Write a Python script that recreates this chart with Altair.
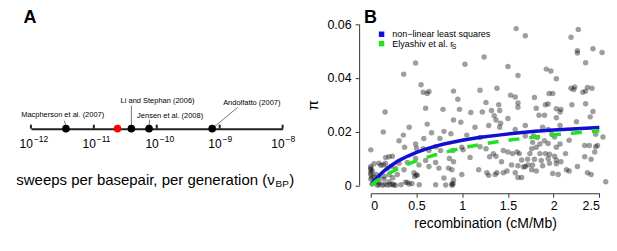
import altair as alt
import pandas as pd

FONT = "Liberation Sans"

# ---------------- Panel A data ----------------
tick_vals = [1e-12, 1e-11, 1e-10, 1e-9, 1e-8]
tick_base = ["10", "10", "10", "10", "10"]
tick_exp = ["−12", "−11", "−10", "−9", "−8"]
study_names = ["Macpherson et al. (2007)", "Li and Stephan (2006)", "Jensen et al. (2008)", "Andolfatto (2007)", "this study"]
study_rate = [3.6e-12, 3.95e-11, 7.55e-11, 7.6e-10, 2.38e-11]
study_color = ["black", "black", "black", "black", "#ff0000"]
label_x = [3.2e-12, 1.03e-10, 1.63e-10, 3.24e-9]
label_y = [0.131, 0.267, 0.124, 0.245]
leader_x1 = [3.4e-12, 3.95e-11, 7.69e-11, 7.6e-10]
leader_x2 = [3.59e-12, 3.95e-11, 7.55e-11, 1.94e-9]
leader_y1 = [0.076, 0.22, 0.086, 0.0]
leader_y2 = [0.029, 0.0, 0.029, 0.205]

# ---------------- Panel B data ----------------
rec_x = [1.59, 1.69, 2.27, 2.19, 0.49, 1.03, 1.24, 1.50, 2.26, 2.26, 2.43, 2.53, 2.35, 1.92, 1.97, 0.36, 1.61, 2.03,
         0.55, 0.574, 0.617, 0.636,
         2.19, 2.23, 2.22, 2.37, 2.42, 2.32, 2.35, 1.79, 1.95, 1.99, 1.91, 1.94, 2.20, 2.35,
         0.905, 1.195, 1.38, 1.53, 1.58, 0.952, 1.26, 1.40, 1.61,
         0.156, 0.60, 0.79, 0.42, 0.137, 0.617, 0.356, 0.665, 0.309, 0.58, 0.756, 0.80, 0.0, 0.37, 0.49, 0.50, 0.574, 0.636, 0.709, 0.763,
         0.163, 0.20, 0.236, 0.09, 0.137, 0.309, 0.40, 0.49, 0.527, 0.60, 0.636, 0.709, 0.745, 0.472, 0.508, 0.29, 0.363,
         0.0, 0.018, 0.0, 0.036, 0.0, 0.054, 0.018, 0.09, 0.145, 0.20, 0.236, 0.18, 0.127, 0.073, 0.27, 0.33, 0.38, 0.42, 0.45, 0.53, 0.71, 0.80, 0.82,
         0.0, 0.0, 0.0, 0.01, 0.03, 0.09, 0.15, 0.21, 0.25, 0.06, 0.09, 0.145, 0.20, 0.24, 0.27, 0.18, 0.11, 0.035, 0.16, 0.22, 0.48, 0.50, 0.40, 0.89, 0.90,
         0.97, 1.094, 1.22, 1.32, 1.41, 1.61, 1.35, 1.37, 1.50, 0.905, 0.985, 1.42, 1.14, 1.29, 1.41, 1.58, 1.69, 0.876, 1.05, 1.195, 1.69,
         0.996, 1.01, 0.897, 1.195, 1.26, 1.45, 1.50, 1.55, 1.60, 1.625, 1.34, 1.086, 1.30, 1.37, 0.86, 0.905, 1.43, 1.65, 1.715,
         1.54, 1.61, 1.67, 0.85, 0.887, 1.18, 1.27, 1.29, 1.36, 1.38, 1.45, 1.49, 1.58, 0.996, 0.905, 0.887, 1.61, 1.65, 1.69, 1.72,
         1.81, 1.84, 1.90, 2.03, 2.07, 2.08, 2.03, 2.43, 2.40, 2.25, 2.07, 1.88, 1.94, 1.78, 1.82, 1.98, 2.01, 2.17, 2.54, 2.46,
         1.77, 1.85, 1.90, 1.94, 2.03, 2.07, 2.34, 2.39, 2.46, 2.48, 1.76, 1.81, 2.45, 1.74, 1.85, 1.91, 1.955, 2.01, 2.13, 2.34, 2.41,
         1.79, 1.865, 1.94, 2.03, 2.08, 1.77, 1.88, 1.955, 2.03, 2.26, 2.37, 2.41, 2.14, 2.17, 2.05, 1.99, 2.57, 1.76, 1.81]
pi_y = [0.0584, 0.0557, 0.0581, 0.0552, 0.0456, 0.0451, 0.0478, 0.0443, 0.0502, 0.0493, 0.0509, 0.0495, 0.0457, 0.0433, 0.0426, 0.0414, 0.0409, 0.0397,
        0.0375, 0.0347, 0.0342, 0.0350,
        0.0362, 0.0366, 0.0357, 0.0365, 0.0362, 0.0347, 0.0351, 0.0327, 0.0342, 0.0342, 0.0300, 0.0303, 0.0300, 0.0304,
        0.0351, 0.0354, 0.0362, 0.0336, 0.0329, 0.0321, 0.0309, 0.0300, 0.0307,
        0.0273, 0.0287, 0.0283, 0.0216, 0.0199, 0.0228, 0.0187, 0.0196, 0.0166, 0.0174, 0.0174, 0.0201, 0.0132, 0.0142, 0.0154, 0.0138, 0.0136, 0.0130, 0.0144, 0.0130,
        0.0104, 0.0106, 0.0108, 0.0082, 0.0076, 0.0082, 0.0085, 0.0100, 0.0076, 0.0092, 0.0070, 0.0085, 0.0064, 0.0047, 0.0037, 0.0040, 0.0058,
        0.0064, 0.0053, 0.0040, 0.0032, 0.0023, 0.0017, 0.0005, 0.0011, 0.0023, 0.0013, 0.0005, 0.0001, 0.0, 0.0, 0.0, 0.0002, 0.0011, 0.0005, 0.0007, 0.0002, 0.0002, 0.0027, 0.0001,
        0.0070, 0.0058, 0.0048, 0.0030, 0.0012, 0.0003, 0.0004, 0.0002, 0.0001, 0.0040, 0.0028, 0.0034, 0.0039, 0.0028, 0.0063, 0.0063, 0.0075, 0.0080, 0.0082, 0.0070, 0.0033, 0.0039, 0.0010, 0.0, 0.0006,
        0.0283, 0.0271, 0.0273, 0.0279, 0.0279, 0.0291, 0.0259, 0.0243, 0.0249, 0.0243, 0.0235, 0.0231, 0.0216, 0.0223, 0.0216, 0.0208, 0.0223, 0.0192, 0.0187, 0.0178, 0.0184,
        0.0142, 0.0132, 0.0130, 0.0144, 0.0136, 0.0130, 0.0124, 0.0118, 0.0124, 0.0118, 0.0118, 0.0104, 0.0106, 0.0108, 0.0100, 0.0088, 0.0088, 0.0094, 0.0097,
        0.0076, 0.0073, 0.0068, 0.0064, 0.0058, 0.0058, 0.0047, 0.0037, 0.0040, 0.0047, 0.0047, 0.0053, 0.0047, 0.0040, 0.0020, 0.0005, 0.0029, 0.0029, 0.0070, 0.0076,
        0.0287, 0.0261, 0.0261, 0.0285, 0.0273, 0.0283, 0.0252, 0.0275, 0.0255, 0.0237, 0.0223, 0.0216, 0.0208, 0.0184, 0.0178, 0.0190, 0.0180, 0.0168, 0.0180, 0.0190,
        0.0160, 0.0154, 0.0166, 0.0156, 0.0142, 0.0154, 0.0148, 0.0148, 0.0144, 0.0148, 0.0136, 0.0142, 0.0124, 0.0118, 0.0118, 0.0118, 0.0116, 0.0108, 0.0118, 0.0106, 0.0097,
        0.0097, 0.0092, 0.0100, 0.0094, 0.0088, 0.0076, 0.0073, 0.0082, 0.0080, 0.0070, 0.0047, 0.0040, 0.0058, 0.0053, 0.0040, 0.0044, 0.0013, 0.0058, 0.0053]

curve_x = [0, 0.02, 0.05, 0.1, 0.15, 0.2, 0.3, 0.4, 0.5, 0.6, 0.7, 0.8, 1.0, 1.2, 1.4, 1.6, 1.8, 2.0, 2.2, 2.5]
nls_y = [0, 0.0009, 0.0021, 0.0039, 0.0055, 0.0068, 0.0091, 0.0108, 0.0123, 0.0135, 0.0145, 0.0154, 0.0168,
         0.0179, 0.0187, 0.0195, 0.0201, 0.0206, 0.0210, 0.0215]
ely_y = [0, 0.0005, 0.0013, 0.0024, 0.0035, 0.0045, 0.0062, 0.0078, 0.0091, 0.0103, 0.0113, 0.0122, 0.0139,
         0.0152, 0.0163, 0.0172, 0.0180, 0.0188, 0.0194, 0.0203]

legend_names = ["non−linear least squares", "Elyashiv et al. r"]
legend_colors = ["#1010d0", "#22e022"]
legend_sym_x = [0.118, 0.118]
legend_sym_y = [0.0563, 0.0528]
legend_txt_x = [0.236, 0.236]
legend_sub_x = [0.885]

one = pd.DataFrame({"k": [0]})


def panel_letter(letter, dx):
    return alt.Chart(one).mark_text(fontSize=18, fontWeight="bold", font=FONT, align="left",
                                    baseline="top", color="black").encode(
        x=alt.value(dx), y=alt.value(-15.3), text=alt.value(letter))


# ---------------- Panel A ----------------
WA, HA = 252.5, 104.7
xA_scale = alt.Scale(type="log", domain=[tick_vals[0], tick_vals[-1]], nice=False)
yA_scale = alt.Scale(domain=[0, 1])
noY = alt.Y("y:Q", scale=yA_scale, axis=None)

dfA_pts = pd.DataFrame({"x": study_rate, "c": study_color, "y": [0] * 5})
dfA_lab = pd.DataFrame({"x": label_x, "y": label_y, "t": study_names[:4]})
dfA_lead = pd.DataFrame({"x": leader_x1, "x2": leader_x2, "y": leader_y1, "y2": leader_y2})
dfA_tick = pd.DataFrame({"x": tick_vals, "b": tick_base, "e": tick_exp})

leadA = alt.Chart(dfA_lead).mark_rule(color="#555", strokeWidth=0.8).encode(
    x=alt.X("x:Q", scale=xA_scale,
            axis=alt.Axis(values=tick_vals, labels=False, ticks=False, domainWidth=2,
                          domainColor="#222", grid=False, title=None)),
    x2="x2:Q", y=noY, y2="y2:Q")
ticksA = alt.Chart(dfA_tick).mark_rule(color="#222", strokeWidth=2).encode(
    x="x:Q", y=alt.value(HA - 4), y2=alt.value(HA))
baseA = alt.Chart(dfA_tick).mark_text(fontSize=12, font=FONT, align="right", baseline="middle",
                                      dx=2, color="black").encode(
    x="x:Q", y=alt.value(HA + 15), text="b:N")
expA = alt.Chart(dfA_tick).mark_text(fontSize=8.5, font=FONT, align="left", baseline="middle",
                                     dx=3, color="black").encode(
    x="x:Q", y=alt.value(HA + 10), text="e:N")
ptsA = alt.Chart(dfA_pts).mark_circle(size=58, opacity=1).encode(
    x="x:Q", y=noY, color=alt.Color("c:N", scale=None))
labA = alt.Chart(dfA_lab).mark_text(fontSize=7.5, font=FONT, color="black").encode(
    x="x:Q", y=noY, text="t:N")
tA1 = alt.Chart(one).mark_text(fontSize=15, font=FONT, align="right", baseline="middle",
                               color="black").encode(
    x=alt.value(244.5), y=alt.value(156.7), text=alt.value("sweeps per basepair, per generation (ν"))
tA2 = alt.Chart(one).mark_text(fontSize=10, font=FONT, align="left", baseline="middle",
                               color="black").encode(
    x=alt.value(245.5), y=alt.value(160.5), text=alt.value("BP"))
tA3 = alt.Chart(one).mark_text(fontSize=15, font=FONT, align="left", baseline="middle",
                               color="black").encode(
    x=alt.value(259.3), y=alt.value(156.7), text=alt.value(")"))

panelA = alt.layer(leadA, ticksA, baseA, expA, ptsA, labA, tA1, tA2, tA3,
                   panel_letter("A", -7.5)).properties(width=WA, height=HA)

# ---------------- Panel B ----------------
WB, HB = 229.3, 161.5
xB_scale = alt.Scale(domain=[0, 2.5], nice=False)
yB_scale = alt.Scale(domain=[0, 0.06], nice=False)

dfB = pd.DataFrame({"x": rec_x, "y": pi_y})
dfC1 = pd.DataFrame({"x": curve_x, "y": nls_y})
dfC2 = pd.DataFrame({"x": curve_x, "y": ely_y})
dfLeg = pd.DataFrame({"x": legend_sym_x, "y": legend_sym_y, "tx": legend_txt_x,
                      "t": legend_names, "c": legend_colors})

ptsB = alt.Chart(dfB).mark_circle(size=30, color="black", opacity=0.38).encode(
    x=alt.X("x:Q", scale=xB_scale,
            axis=alt.Axis(values=[0, 0.5, 1, 1.5, 2, 2.5], format="~g", offset=8, tickSize=4,
                          domainColor="#333", tickColor="#333", labelFontSize=12.5, labelFont=FONT,
                          labelPadding=2, grid=False, title="recombination (cM/Mb)", titleFont=FONT,
                          titleFontSize=14, titleFontWeight="normal", titlePadding=5,
                          labelColor="black", titleColor="black")),
    y=alt.Y("y:Q", scale=yB_scale,
            axis=alt.Axis(values=[0, 0.02, 0.04, 0.06], format="~g", offset=11.7, tickSize=4,
                          domainColor="#333", tickColor="#333", labelFontSize=12.5, labelFont=FONT,
                          labelPadding=4, grid=False, title="π", titleFont=FONT, titleFontSize=15,
                          titleFontWeight="normal", titlePadding=6,
                          labelColor="black", titleColor="black")))
lineB1 = alt.Chart(dfC1).mark_line(color="#1010d0", strokeWidth=3.5).encode(x="x:Q", y="y:Q")
lineB2 = alt.Chart(dfC2).mark_line(color="#22e022", strokeWidth=3.5, strokeDash=[11, 10]).encode(
    x="x:Q", y="y:Q")
legSym = alt.Chart(dfLeg).mark_square(size=30, opacity=1).encode(
    x="x:Q", y="y:Q", color=alt.Color("c:N", scale=None))
legTxt = alt.Chart(dfLeg).mark_text(fontSize=9, font=FONT, align="left", baseline="middle",
                                    color="black").encode(
    x="tx:Q", y="y:Q", text="t:N")
legSub = alt.Chart(pd.DataFrame({"x": legend_sub_x, "y": legend_sym_y[1:]})).mark_text(
    fontSize=7, font=FONT, align="left", baseline="middle", dy=3, color="black").encode(
    x="x:Q", y="y:Q", text=alt.value("S"))

panelB = alt.layer(ptsB, lineB1, lineB2, legSym, legTxt, legSub,
                   panel_letter("B", -6.7)).properties(width=WB, height=HB)

chart = alt.hconcat(panelA, panelB, spacing=9).properties(
    padding={"left": 8, "top": 0, "right": 0, "bottom": 0}, background="white"
).configure_view(stroke=None)

chart.save("out.html", embed_options={"renderer": "svg", "actions": False})
